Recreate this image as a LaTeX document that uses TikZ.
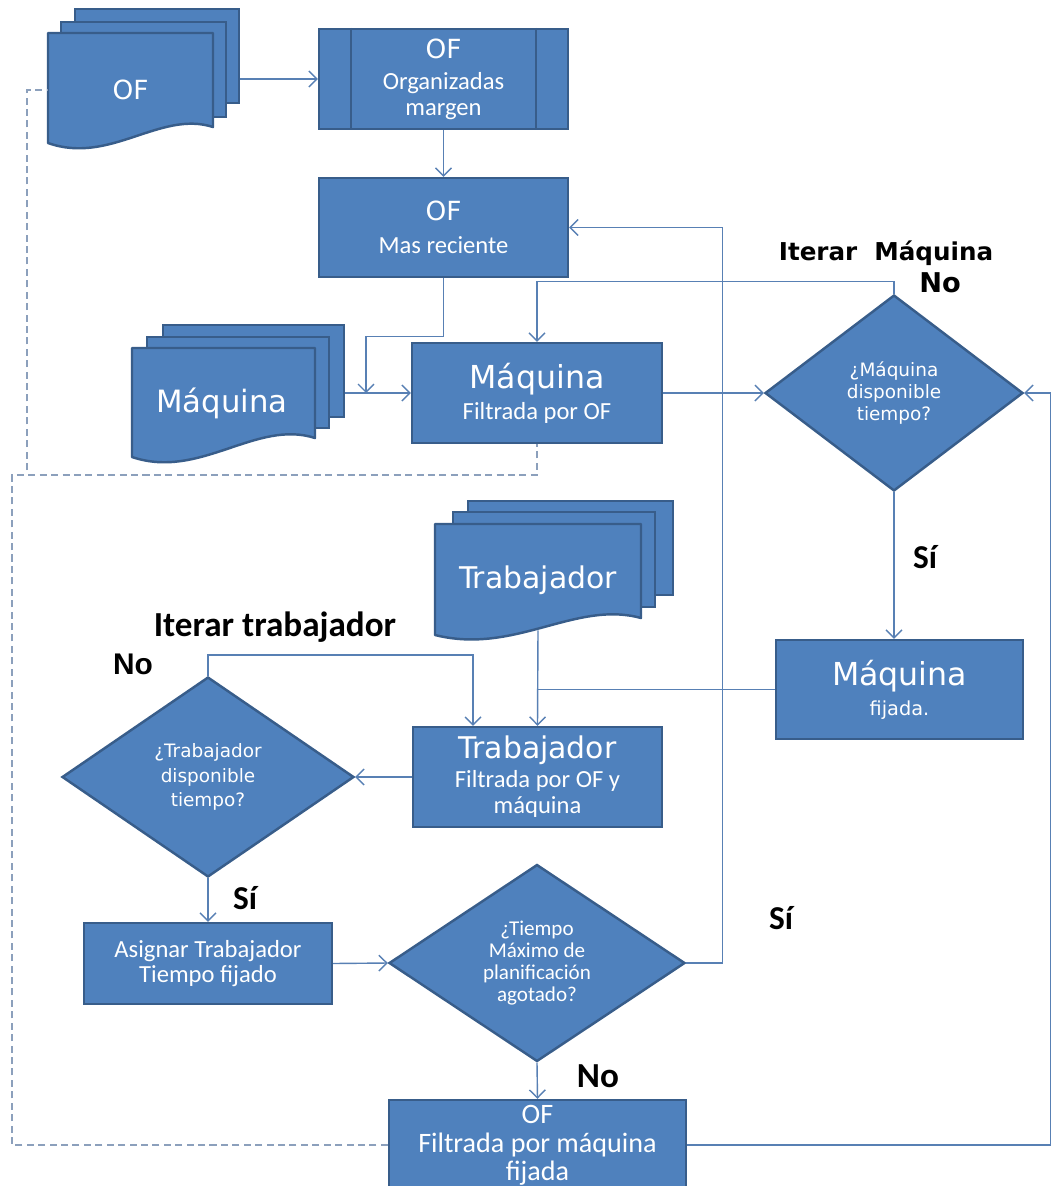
\documentclass[tikz,border=0pt]{standalone}
\usepackage{fontspec}
\setmainfont{Carlito}
\newfontfamily\vfont{DejaVu Sans}
\newfontfamily\afont{Liberation Sans}
\usepackage{xcolor}
\usetikzlibrary{positioning, arrows.meta, shapes.geometric}

\definecolor{azul}{RGB}{79,129,189}
\definecolor{borde}{RGB}{56,93,138}
\definecolor{linea}{RGB}{88,128,180}
\definecolor{gris}{RGB}{140,160,188}

\newcommand{\vf}[1]{\vfont\fontsize{#1}{#1}\selectfont}
\newcommand{\cf}[1]{\fontsize{#1}{#1}\selectfont}

\begin{document}
\begin{tikzpicture}[x=0.02cm, y=-0.02cm,
  caja/.style={rectangle, fill=azul, draw=borde, line width=1.4pt, text=white, align=center, inner sep=0pt},
  rombo/.style={diamond, fill=azul, draw=borde, line width=1.4pt, text=white, align=center, inner sep=0pt},
  hoja/.style={rectangle, fill=azul, draw=borde, line width=1.4pt},
  frente/.style={fill=azul, draw=borde, line width=1.4pt, line join=round},
  docu/.style={text=white, inner sep=0pt},
  flujo/.style={draw=linea, line width=0.8pt, -{Straight Barb[length=4.5pt,width=9pt]}},
  union/.style={draw=linea, line width=0.8pt},
  guion/.style={draw=gris, line width=0.8pt, dash pattern=on 4pt off 2.5pt},
  etiq/.style={text=black, inner sep=0pt}]
  \useasboundingbox (0,0) rectangle (1051,1186);
  \clip (0,0) rectangle (1051,1186);
  \fill[white] (0,0) rectangle (1051,1186);

  % documentos
  \node[hoja, minimum width=3.28cm, minimum height=1.88cm] (ofatras) at (157,56) {};
  \node[hoja, minimum width=3.3cm, minimum height=1.9cm] (ofmedio) at (143.5,69.5) {};
  \draw[frente] (48,33) -- (213,33) -- (213,127) .. controls (160,110) and (110,165) .. (48,143) -- cycle;
  \node[docu, minimum width=3.3cm] (ofdoc) at (130.5,90) {\vf{15}OF};

  \node[hoja, minimum width=3.62cm, minimum height=1.84cm] (maqatras) at (253.5,371) {};
  \node[hoja, minimum width=3.64cm, minimum height=1.82cm] (maqmedio) at (238,382.5) {};
  \draw[frente] (132,348) -- (315,348) -- (315,438) .. controls (256,419) and (200,480) .. (132,457) -- cycle;
  \node[docu] (maqdoc) at (222,403) {\vf{17.5}Máquina};

  \node[hoja, minimum width=4.1cm, minimum height=1.88cm] (trabatras) at (570.5,548) {};
  \node[hoja, minimum width=4.04cm, minimum height=1.9cm] (trabmedio) at (554,559.5) {};
  \draw[frente] (435,524) -- (641,524) -- (641,618) .. controls (575,600) and (515,655) .. (435,635) -- cycle;
  \node[docu, minimum width=4.12cm, minimum height=2cm] (trabdoc) at (538,580) {\vf{17}Trabajador};

  % cajas
  \node[caja, minimum width=4.98cm, minimum height=2cm] (oforg) at (443.5,79)
    {{\vf{15}OF}\\[6pt]\cf{14}Organizadas\\[2.5pt]\cf{14}margen};
  \draw[draw=borde, line width=1.4pt] ([xshift=0.66cm]oforg.north west) -- ([xshift=0.66cm]oforg.south west)
    ([xshift=-0.66cm]oforg.north east) -- ([xshift=-0.66cm]oforg.south east);
  \node[caja, minimum width=4.98cm, minimum height=1.98cm] (ofrec) at (443.5,227.5)
    {{\vf{15}OF}\\[6.5pt]\cf{14}Mas reciente};
  \node[caja, minimum width=5cm, minimum height=2cm] (maqfil) at (537,393)
    {{\vf{18}Máquina}\\[3pt]\cf{14}Filtrada por OF};
  \node[caja, minimum width=4.94cm, minimum height=1.98cm] (maqfij) at (899.5,689.5)
    {{\vf{18}Máquina}\\[4pt]\vf{11}fijada.};
  \node[caja, minimum width=4.98cm, minimum height=2cm] (trabfil) at (537.5,777)
    {{\vf{17}Trabajador}\\[2pt]\cf{14}Filtrada por OF y\\[3pt]\cf{14}máquina};
  \node[caja, minimum width=4.96cm, minimum height=1.62cm] (asig) at (208,963.5)
    {\cf{14}Asignar Trabajador\\[1pt]\cf{14}Tiempo fijado};
  \node[caja, minimum width=5.94cm, minimum height=1.8cm] (offil) at (537.5,1145)
    {\cf{16}OF\\[4.5pt]\cf{16}Filtrada por máquina\\[1.5pt]\cf{16}fijada};

  % rombos
  \node[rombo, minimum width=5.16cm, minimum height=3.92cm] (maqdisp) at (894,393)
    {\vf{10.5}¿Máquina\\[0.5pt]\vf{10.5}disponible\\[0.5pt]\vf{10.5}tiempo?};
  \node[rombo, minimum width=5.84cm, minimum height=4cm] (trabdisp) at (208,777)
    {\vf{10.5}¿Trabajador\\[2pt]\vf{10.5}disponible\\[2pt]\vf{10.5}tiempo?};
  \node[rombo, minimum width=5.92cm, minimum height=3.94cm] (tiempo) at (537,963)
    {\cf{12}¿Tiempo\\[0.5pt]\cf{12}Máximo de\\[0.5pt]\cf{12}planificación\\[0.5pt]\cf{12}agotado?};

  % etiquetas
  \node[etiq] (itmaq) at (886,253) {\vfont\bfseries\fontsize{14}{14}\selectfont Iterar\ \ Máquina};
  \node[etiq] (nomaq) at (940,283) {\vfont\bfseries\fontsize{15.5}{15.5}\selectfont No};
  \node[etiq] (simaq) at (925,557) {\bfseries\cf{19}Sí};
  \node[etiq] (ittrab) at (275,627) {\bfseries\cf{20}Iterar trabajador};
  \node[etiq] (notrab) at (133,664) {\afont\bfseries\fontsize{17}{17}\selectfont No};
  \node[etiq] (sitrab) at (245,898) {\bfseries\cf{19}Sí};
  \node[etiq] (sitiempo) at (781,918) {\bfseries\cf{19}Sí};
  \node[etiq] (notiempo) at (598,1076) {\bfseries\cf{20}No};

  % conectores
  \coordinate (juntaof) at (366,393);
  \coordinate (juntamaq) at (537.5,689.5);
  \coordinate (giro) at (27,470);
  \draw[flujo] (oforg.west -| ofatras.east) -- (oforg.west);
  \draw[flujo] (oforg.south) -- (ofrec.north);
  \draw[flujo] (ofrec.south) -- ++(0,58) -| (juntaof);
  \draw[flujo] (maqfil.west -| maqatras.east) -- (maqfil.west);
  \draw[flujo] (maqfil.east) -- (maqdisp.west);
  \draw[flujo] (maqdisp.north) -- ++(0,-12) -| (maqfil.north);
  \draw[flujo] (maqdisp.south) -- (maqdisp.south |- maqfij.north);
  \draw[union] (maqfij.west) -- (juntamaq);
  \draw[flujo] (trabdoc.south) -- (trabfil.north);
  \draw[flujo] (trabdisp.north) -- ++(0,-21) -| ([xshift=-1.29cm]trabfil.north);
  \draw[flujo] (trabfil.west) -- (trabdisp.east);
  \draw[flujo] (trabdisp.south) -- (asig.north);
  \draw[flujo] (asig.east) -- (tiempo.west);
  \draw[flujo] (tiempo.east) -- ++(36,0) |- (ofrec.east);
  \draw[flujo] (tiempo.south) -- (offil.north);
  \draw[flujo] (offil.east) -- ++(363,0) |- (maqdisp.east);
  \draw[guion] (offil.west) -| (12,475) -| (maqfil.south);
  \draw[guion] (giro) |- (ofdoc.west);
\end{tikzpicture}
\end{document}
